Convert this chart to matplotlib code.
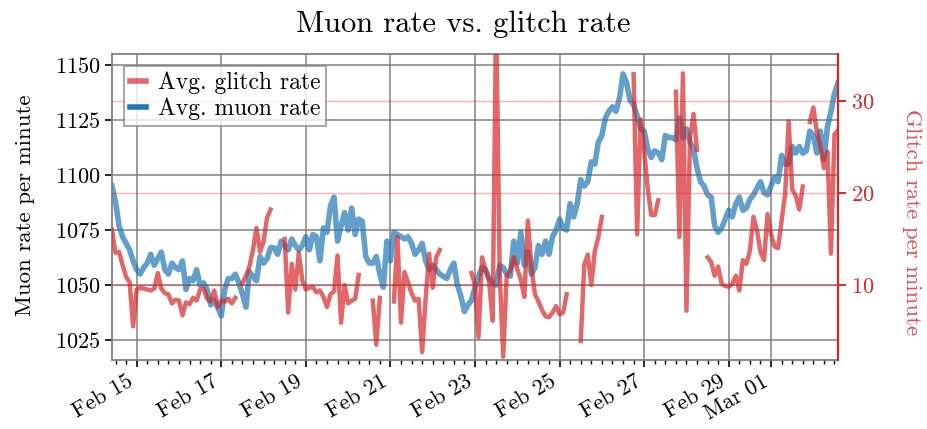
import numpy as np
import pandas as pd
import matplotlib
matplotlib.use("Agg")
import matplotlib.pyplot as plt
import matplotlib.dates as mdates
from matplotlib.lines import Line2D

plt.rcParams['font.family'] = ['cmr10', 'DejaVu Serif']
plt.rcParams['mathtext.fontset'] = 'cm'
plt.rcParams['axes.formatter.use_mathtext'] = True

nan = np.nan

# 2-hourly samples starting Feb 14 10:00
times = pd.date_range('2024-02-14 10:00', periods=207, freq='2h')

muon_rate = [
    1095, 1088, 1077, 1072, 1069, 1066, 1061, 1057, 1055, 1058,
    1060, 1064, 1059, 1062, 1065, 1057, 1055, 1060, 1058, 1057,
    1061, 1048, 1053, 1052, 1057, 1050, 1051, 1048, 1041, 1043,
    1040, 1036, 1048, 1053, 1053, 1055, 1051, 1046, 1040, 1056,
    1054, 1052, 1063, 1060, 1062, 1067, 1067, 1064, 1070, 1068,
    1066, 1071, 1068, 1066, 1068, 1072, 1066, 1073, 1072, 1061,
    1076, 1074, 1086, 1090, 1070, 1077, 1083, 1075, 1085, 1073,
    1080, 1079, 1063, 1060, 1060, 1063, 1055, 1049, 1070, 1061,
    1074, 1073, 1072, 1071, 1072, 1069, 1064, 1066, 1069, 1061,
    1057, 1059, 1057, 1055, 1054, 1053, 1057, 1060, 1050, 1045,
    1038, 1041, 1043, 1049, 1054, 1058, 1057, 1053, 1051, 1050,
    1059, 1058, 1055, 1054, 1070, 1060, 1074, 1059, 1065, 1055,
    1058, 1068, 1064, 1070, 1064, 1072, 1075, 1080, 1076, 1075,
    1087, 1081, 1087, 1098, 1095, 1097, 1106, 1105, 1115, 1118,
    1126, 1129, 1131, 1129, 1135, 1146, 1142, 1134, 1132, 1127,
    1121, 1120, 1112, 1108, 1111, 1110, 1107, 1118, 1117, 1117,
    1116, 1126, 1117, 1121, 1115, 1112, 1103, 1097, 1095, 1091,
    1090, 1077, 1074, 1076, 1080, 1084, 1081, 1087, 1090, 1084,
    1085, 1089, 1091, 1094, 1097, 1092, 1091, 1095, 1099, 1097,
    1109, 1105, 1105, 1113, 1110, 1113, 1110, 1111, 1120, 1118,
    1110, 1120, 1107, 1122, 1129, 1137, 1142,
]

glitch_rate = [
    16.0, 13.5, 13.6, 12.2, 10.9, 10.3, 5.5, 9.5, 9.7, 9.6,
    9.5, 9.4, 9.6, 11.3, 9.6, 9.1, 9.0, 8.0, 8.4, 8.3,
    6.7, 8.1, 7.9, 8.6, 8.3, 9.5, 9.6, 8.5, 8.2, 9.4,
    7.6, 8.3, 8.2, 8.5, 8.0, 8.6, nan, 10.2, 11.0, 12.0,
    13.8, 16.2, 13.6, 14.7, 17.3, 18.2, nan, nan, nan, 15.0,
    7.0, 12.3, 9.5, 13.5, 10.5, 9.5, 9.7, 9.8, 9.2, 9.4,
    8.7, 7.6, 9.0, 9.3, 13.2, 5.9, 10.0, 8.0, 8.3, 8.5,
    11.1, nan, nan, nan, 8.3, 3.5, 8.6, nan, nan, nan,
    8.2, 15.2, 5.9, 11.4, 10.3, 9.1, 8.3, 8.5, 2.7, 8.5,
    13.4, 9.7, 13.0, 13.8, nan, nan, nan, nan, nan, nan,
    nan, nan, 11.3, 10.0, 4.3, 13.0, 11.6, 10.4, 6.1, 40.0,
    11.4, 2.2, 11.0, 11.5, 13.0, 11.7, 10.6, 8.7, 17.0, 12.0,
    9.0, 8.2, 7.3, 6.6, 6.5, 7.0, 7.7, 6.8, 7.0, 9.0,
    nan, nan, nan, 3.9, 12.2, 13.3, 10.0, 13.7, 15.2, 17.4,
    nan, nan, nan, nan, nan, nan, nan, nan, 32.9, 15.5,
    28.0, 24.7, 20.5, 17.6, 17.6, 19.2, nan, nan, nan, nan,
    31.0, 15.2, 33.0, 7.2, 26.0, 28.6, 24.7, nan, nan, 13.0,
    12.5, 11.0, 12.0, 10.1, 9.9, 9.8, 10.1, 11.0, 9.4, 12.7,
    12.3, 13.7, 17.4, 16.0, 13.6, 12.7, 17.7, 15.5, 14.2, 14.0,
    17.0, 19.9, 27.8, 20.4, 19.7, 18.2, 20.7, nan, 27.7, 29.3,
    26.6, 25.1, 22.7, 24.5, 13.4, 26.4, 26.8,
]

muon_ticks = [1025, 1050, 1075, 1100, 1125, 1150]
glitch_ticks = [10, 20, 30]

fig = plt.figure(figsize=(9.27, 4.29), dpi=100)
ax = fig.add_axes([0.1208, 0.161, 0.7832, 0.713])
ax2 = ax.twinx()

ax.plot(times, muon_rate, color='#1f77b4', alpha=0.7, lw=4.0)
ax2.plot(times, glitch_rate, color='#d62728', alpha=0.7, lw=3.2)

ax.set_xlim(times[0], times[-1])
ax.set_ylim(1016, 1155)
ax.set_yticks(muon_ticks)
ax2.set_ylim(1.85, 35.1)
ax2.set_yticks(glitch_ticks)

ax.xaxis.set_major_locator(mdates.DayLocator(bymonthday=range(1, 32, 2)))
ax.xaxis.set_minor_locator(mdates.HourLocator(byhour=[0, 6, 12, 18]))
ax.xaxis.set_major_formatter(mdates.DateFormatter('%b %d'))
plt.setp(ax.get_xticklabels(), rotation=30, ha='right')

ax.grid(True, which='major', color='gray', lw=1.2, alpha=0.9)
ax2.grid(True, axis='y', color='red', lw=1.0, alpha=0.3)

for s in ['left', 'top', 'bottom', 'right']:
    ax.spines[s].set_color('gray')
    ax.spines[s].set_linewidth(1.3)
for s in ['left', 'top', 'bottom']:
    ax2.spines[s].set_visible(False)
ax2.spines['right'].set_color('#d62728')
ax2.spines['right'].set_linewidth(1.6)

ax.tick_params(axis='both', which='major', labelsize=16, length=5, width=1.2)
ax.tick_params(axis='x', which='minor', length=3, width=1.0)
ax2.tick_params(axis='y', labelsize=16, length=6, width=1.4, colors='#d62728')

ax.set_ylabel('Muon rate per minute', fontsize=16.5, va='center', ha='center')
ax.yaxis.set_label_coords(-0.119, 0.505)
ax2.set_ylabel('Glitch rate per minute', fontsize=16.5, color='#d62728', alpha=0.8,
               rotation=270, va='center', ha='center')
ax2.yaxis.set_label_coords(1.102, 0.451)
fig.suptitle('Muon rate vs. glitch rate', fontsize=22, y=0.975)

handles = [Line2D([], [], color='#d62728', alpha=0.7, lw=4),
           Line2D([], [], color='#1f77b4', lw=4)]
leg = ax2.legend(handles, ['Avg. glitch rate', 'Avg. muon rate'], loc='upper left',
                 fontsize=17, handlelength=0.7, handletextpad=0.5, fancybox=False,
                 edgecolor='gray', borderpad=0.25, labelspacing=0.15,
                 borderaxespad=0.5)
leg.get_frame().set_linewidth(1.2)

fig.savefig('out.png', dpi=100)
